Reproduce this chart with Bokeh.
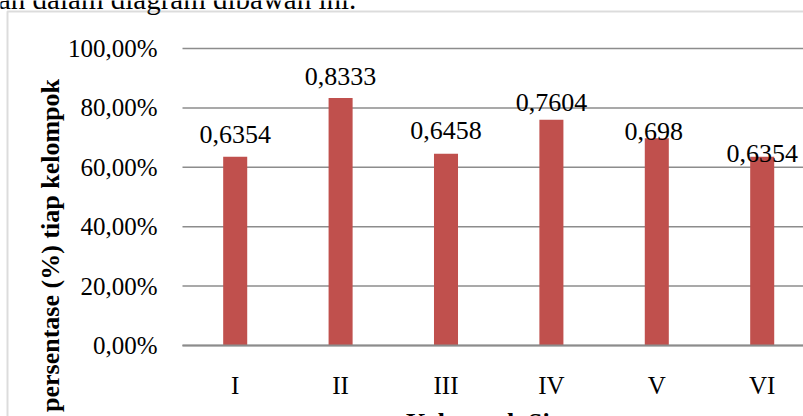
import math

from bokeh.plotting import figure
from bokeh.models import (Range1d, FixedTicker, CustomJSTickFormatter, Label, LabelSet,
                          ColumnDataSource, PolyAnnotation)
from bokeh.embed import file_html
from bokeh.resources import INLINE

# --- data -------------------------------------------------------------
kelompok = ["I", "II", "III", "IV", "V", "VI"]
persentase = [0.6354, 0.8333, 0.6458, 0.7604, 0.698, 0.6354]
y_ticks = [0.0, 0.2, 0.4, 0.6, 0.8, 1.0]

# hand-placed value labels: lift above the bar top and sideways nudge, in pixels
label_lift = [14, 13, 15, 9, -2, -5]
label_shift = [0, 0, 0, 0, -3, 0]

# --- layout -----------------------------------------------------------
W, H = 803, 416
AREA_LEFT = 182           # pixel column of the plot area's left edge
AREA_TOP = 48             # pixel row of the 100% line
AREA_BOTTOM = 345         # pixel row of the 0% line
CAT_PX = 105.4            # pixel width of one category slot
SERIF = "Liberation Serif"
GRID = "#8c8c8c"
BAR = "#C0504D"

n = len(kelompok)
xs = [i + 0.5 for i in range(n)]
area_h = AREA_BOTTOM - AREA_TOP


def px_x(px):
    return (px - AREA_LEFT) / CAT_PX


def px_y(py):
    return (AREA_BOTTOM - py) / area_h


# the frame covers the whole canvas; axes sit at fixed data locations inside it
p = figure(width=W, height=H,
           x_range=Range1d(px_x(0), px_x(W)), y_range=Range1d(px_y(H), px_y(0)),
           min_border=0, min_border_left=0, min_border_right=0,
           min_border_top=0, min_border_bottom=0,
           output_backend="svg", toolbar_location=None,
           background_fill_color="white", border_fill_color="white")
p.outline_line_color = None

# --- grid lines across the plot area ----------------------------------
grid_src = ColumnDataSource(dict(y=y_ticks, x0=[0] * len(y_ticks),
                                 x1=[px_x(W + 50)] * len(y_ticks)))
p.segment(x0="x0", y0="y", x1="x1", y1="y", source=grid_src,
          line_color=GRID, line_width=1.5)
p.xgrid.visible = False
p.ygrid.visible = False

# --- bars and value labels --------------------------------------------
src = ColumnDataSource(dict(
    x=xs, top=persentase,
    label=[str(v).replace(".", ",") for v in persentase],
    lift=label_lift, shift=label_shift,
))
p.vbar(x="x", top="top", width=0.228, source=src, fill_color=BAR, line_color=None)

p.add_layout(LabelSet(x="x", y="top", text="label", source=src,
                      x_offset="shift", y_offset="lift",
                      text_align="center", text_baseline="alphabetic",
                      text_font=SERIF, text_font_size="26px", text_color="black"))

# --- axes -------------------------------------------------------------
xa = p.xaxis[0]
xa.fixed_location = 0
xa.bounds = (0, px_x(W + 50))
xa.ticker = FixedTicker(ticks=xs)
xa.formatter = CustomJSTickFormatter(args=dict(cats=kelompok),
                                     code="return cats[Math.floor(tick)];")
xa.axis_line_color = GRID
xa.axis_line_width = 2
xa.major_tick_line_color = None
xa.minor_tick_line_color = None
xa.major_tick_out = 0
xa.major_tick_in = 0
xa.major_label_standoff = 26
xa.major_label_text_font = SERIF
xa.major_label_text_font_size = "25px"
xa.major_label_text_color = "black"

ya = p.yaxis[0]
ya.fixed_location = 0
ya.ticker = FixedTicker(ticks=y_ticks)
ya.formatter = CustomJSTickFormatter(
    code="return (tick * 100).toFixed(2).replace('.', ',') + '%';")
ya.axis_line_color = None
ya.major_tick_line_color = None
ya.minor_tick_line_color = None
ya.major_tick_out = 0
ya.major_tick_in = 0
ya.major_label_standoff = 25
ya.major_label_text_font = SERIF
ya.major_label_text_font_size = "25px"
ya.major_label_text_color = "black"

# --- titles -----------------------------------------------------------
p.add_layout(Label(x=0, y=0, x_offset=50 - AREA_LEFT, y_offset=100, angle=math.pi / 2,
                   text="persentase (%) tiap kelompok",
                   text_align="center", text_baseline="middle",
                   text_font=SERIF, text_font_style="bold", text_font_size="26px",
                   text_color="black"))
p.add_layout(Label(x=n / 2, y=0, y_offset=-76.5, text="Kelompok Siswa",
                   text_align="center", text_baseline="middle",
                   text_font=SERIF, text_font_style="bold", text_font_size="26px",
                   text_color="black"))

# surrounding text line and chart frame
p.add_layout(Label(x=0, y=1, x_offset=-17 - AREA_LEFT, y_offset=AREA_TOP + 2,
                   text="kan dalam diagram dibawah ini.",
                   text_align="left", text_baseline="middle",
                   text_font=SERIF, text_font_size="29px", text_color="black"))
p.add_layout(PolyAnnotation(
    xs=[px_x(7), px_x(7), px_x(W + 100), px_x(W + 100)],
    ys=[px_y(H + 100), px_y(11), px_y(11), px_y(H + 100)],
    fill_alpha=0, line_color=GRID, line_width=2))

open("out.html", "w").write(file_html(p, INLINE))
